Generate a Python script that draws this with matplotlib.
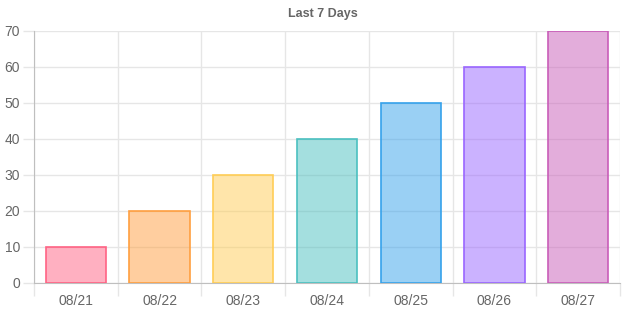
import numpy as np
import matplotlib.pyplot as plt
from matplotlib.ticker import MultipleLocator, FixedLocator

days = ['08/21', '08/22', '08/23', '08/24', '08/25', '08/26', '08/27']
counts = [10, 20, 30, 40, 50, 60, 70]
colors = ['#ff6384', '#ff9f40', '#ffcd56', '#4bc0c0', '#36a2eb', '#9966ff', '#c95db9']

plt.rcParams['font.family'] = ['Liberation Sans', 'DejaVu Sans']

fig = plt.figure(figsize=(6.24, 3.12), dpi=100)
ax = fig.add_axes([34 / 624, 29 / 312, 586 / 624, 252 / 312])

x = np.arange(len(days))
for i, (v, c) in enumerate(zip(counts, colors)):
    ax.bar(x[i], v, width=0.72, color=c, alpha=0.5, zorder=2)
    ax.bar(x[i], v, width=0.72, facecolor='none', edgecolor=c, linewidth=1.2, zorder=3)

ax.set_xlim(-0.5, len(days) - 0.5)
ax.set_ylim(0, 70)
ax.yaxis.set_major_locator(MultipleLocator(10))
ax.set_xticks(x)
ax.set_xticklabels(days)
ax.xaxis.set_minor_locator(FixedLocator(np.arange(len(days) + 1) - 0.5))

grid = '#e6e6e6'
ax.grid(axis='y', which='major', color=grid, linewidth=1, alpha=1, zorder=0)
ax.grid(axis='x', which='minor', color=grid, linewidth=1, alpha=1, zorder=0)
ax.tick_params(axis='x', which='major', length=0, pad=8, labelsize=10, labelcolor='#666666')
ax.tick_params(axis='x', which='minor', length=9, color=grid, width=1)
ax.tick_params(axis='y', which='major', length=8, color=grid, width=1, pad=2,
               labelsize=10, labelcolor='#666666')

for s in ['top', 'right']:
    ax.spines[s].set_visible(False)
ax.spines['left'].set_color('#bfbfbf')
ax.spines['bottom'].set_color('#bfbfbf')

fig.text(323 / 624, 1 - 14 / 312, 'Last 7 Days', ha='center', va='center',
         fontsize=9, fontweight='bold', color='#666666')

fig.savefig('out.png', dpi=100)
